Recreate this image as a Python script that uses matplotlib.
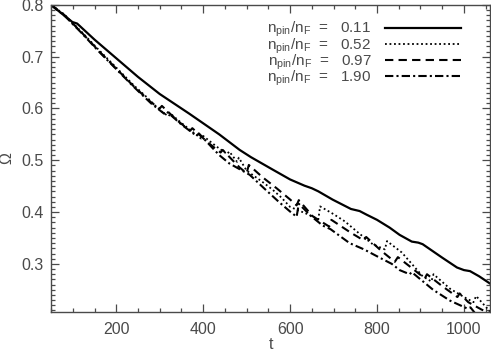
import numpy as np
import matplotlib
matplotlib.use('Agg')
from matplotlib import pyplot as plt
from matplotlib.ticker import MultipleLocator

plt.rcParams['font.family'] = ['Liberation Sans', 'DejaVu Sans']
plt.rcParams['mathtext.fontset'] = 'custom'
plt.rcParams['mathtext.rm'] = 'Liberation Sans'
plt.rcParams['mathtext.it'] = 'Liberation Sans'

# n_pin/n_F values shown in the legend
ratios = ['0.11', '0.52', '0.97', '1.90']

t_011 = [50, 75, 99, 110, 150, 200, 250, 300, 368, 437, 484, 510, 560, 600, 633,
         650, 665, 698, 740, 760, 776, 800, 829, 852, 880, 895, 905, 950, 984,
         1000, 1014, 1035, 1060]
w_011 = [0.800, 0.783, 0.767, 0.764, 0.733, 0.697, 0.661, 0.628, 0.590, 0.550,
         0.520, 0.506, 0.482, 0.463, 0.451, 0.446, 0.440, 0.424, 0.406, 0.402,
         0.395, 0.385, 0.370, 0.356, 0.343, 0.341, 0.338, 0.312, 0.293, 0.288,
         0.286, 0.276, 0.262]

t_052 = [50, 80, 120, 160, 200, 240, 270, 300, 320, 325, 350, 380, 395, 400, 430,
         455, 460, 478, 482, 500, 520, 540, 560, 580, 600, 620, 640, 665, 669,
         700, 726, 760, 790, 818, 823, 857, 880, 905, 925, 930, 968, 1000, 1022,
         1028, 1045, 1060]
w_052 = [0.800, 0.782, 0.748, 0.713, 0.679, 0.645, 0.622, 0.597, 0.585, 0.590,
         0.572, 0.552, 0.542, 0.547, 0.527, 0.512, 0.517, 0.497, 0.505, 0.480,
         0.468, 0.456, 0.443, 0.428, 0.410, 0.403, 0.396, 0.386, 0.411, 0.396,
         0.382, 0.358, 0.338, 0.328, 0.344, 0.322, 0.300, 0.276, 0.266, 0.280,
         0.252, 0.236, 0.226, 0.238, 0.222, 0.208]

t_097 = [50, 80, 120, 160, 200, 240, 280, 300, 305, 340, 370, 375, 410, 440, 445,
         470, 484, 500, 505, 537, 569, 599, 615, 620, 652, 690, 695, 740, 770,
         775, 810, 841, 848, 880, 910, 915, 950, 985, 990, 1010, 1040, 1060]
w_097 = [0.800, 0.781, 0.747, 0.711, 0.677, 0.643, 0.612, 0.600, 0.605, 0.577,
         0.557, 0.562, 0.535, 0.515, 0.520, 0.498, 0.486, 0.475, 0.491, 0.467,
         0.446, 0.425, 0.413, 0.423, 0.392, 0.372, 0.385, 0.360, 0.345, 0.352,
         0.325, 0.304, 0.313, 0.292, 0.272, 0.280, 0.257, 0.236, 0.243, 0.226,
         0.212, 0.204]

t_190 = [50, 80, 120, 160, 200, 240, 280, 310, 315, 350, 385, 390, 420, 437, 460,
         507, 540, 575, 600, 615, 620, 650, 675, 693, 737, 770, 806, 834, 852,
         875, 880, 929, 968, 1007, 1015, 1030]
w_190 = [0.800, 0.780, 0.746, 0.710, 0.676, 0.642, 0.610, 0.590, 0.595, 0.569,
         0.547, 0.552, 0.525, 0.510, 0.494, 0.472, 0.446, 0.419, 0.401, 0.391,
         0.416, 0.391, 0.374, 0.367, 0.340, 0.328, 0.312, 0.300, 0.288, 0.280,
         0.284, 0.250, 0.229, 0.214, 0.216, 0.200]

gray = '#4a4a4a'
fig = plt.figure(figsize=(4.91, 3.51), dpi=100)
ax = fig.add_axes([0.104, 0.111, 0.894, 0.875])

series = [(t_011, w_011, '-', 1.6),
          (t_052, w_052, (0, (1, 1.5)), 1.3),
          (t_097, w_097, (0, (4, 2.5)), 1.5),
          (t_190, w_190, (0, (4, 1.5, 1, 1.5)), 1.5)]
handles = []
for (t, w, ls, lw), r in zip(series, ratios):
    h, = ax.plot(t, w, color='black', linestyle=ls, linewidth=lw)
    handles.append(h)

labels = [r'$\mathregular{n_{pin}/n_F}$  =   ' + r for r in ratios]
leg = ax.legend(handles, labels, loc='upper right', frameon=False,
                markerfirst=False, handlelength=5.0, handletextpad=0.85,
                labelspacing=-0.2, fontsize=11, bbox_to_anchor=(0.965, 0.995))
for txt in leg.get_texts():
    txt.set_color(gray)

ax.set_xlim(50, 1060)
ax.set_ylim(0.207, 0.8)
ax.xaxis.set_major_locator(MultipleLocator(200))
ax.xaxis.set_minor_locator(MultipleLocator(50))
ax.yaxis.set_major_locator(MultipleLocator(0.1))
ax.yaxis.set_minor_locator(MultipleLocator(0.01))
ax.tick_params(which='both', direction='in', top=True, right=True,
               colors=gray, labelsize=11.5, width=0.9)
ax.tick_params(which='major', length=6)
ax.tick_params(axis='y', which='major', pad=5)
ax.tick_params(axis='x', which='major', pad=7)
ax.tick_params(which='minor', length=3)
for s in ax.spines.values():
    s.set_color(gray)
    s.set_linewidth(1.0)

ax.set_xlabel('t', color=gray, fontsize=11.5, labelpad=0)
ax.set_ylabel('Ω', color=gray, fontsize=11.5, labelpad=5)

fig.savefig('out.png', dpi=100)
